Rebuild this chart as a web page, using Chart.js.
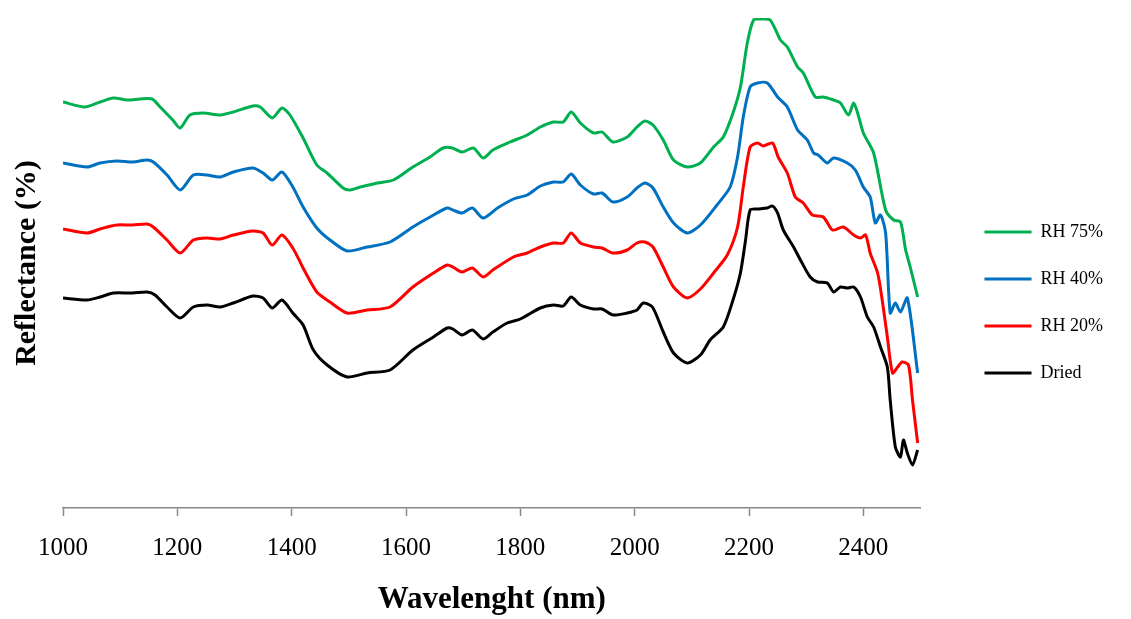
<!DOCTYPE html>
<html><head><meta charset="utf-8">
<script src="https://cdn.jsdelivr.net/npm/chart.js@4.4.1/dist/chart.umd.min.js"></script>
<style>html,body{margin:0;padding:0;background:#fff;}</style>
</head><body>
<canvas id="c" width="1131" height="619"></canvas>
<script>
// ---- Data (wavelength in nm, reflectance in arbitrary %-units) ----
const xTicks = [1000, 1200, 1400, 1600, 1800, 2000, 2200, 2400];
const seriesNames = ['RH 75%', 'RH 40%', 'RH 20%', 'Dried'];

const nmRH75 = [1000,1038,1065,1088,1112,1135,1156,1170,1192,1205,1222,1245,1275,1298,1332,1345,1366,1383,1397,1420,1444,1462,1490,1502,1520,1550,1578,1612,1642,1665,1681,1698,1718,1735,1752,1782,1812,1835,1858,1875,1889,1905,1928,1943,1962,1987,2004,2018,2032,2050,2068,2092,2115,2138,2155,2172,2185,2197,2208,2220,2237,2255,2267,2285,2295,2316,2330,2348,2360,2374,2383,2390,2400,2418,2439,2453,2465,2474,2482,2495];
const valRH75 = [40.6,40.1,40.6,41.0,40.8,40.9,40.9,40.1,38.8,38.0,39.3,39.5,39.3,39.6,40.2,40.1,39.0,40.0,39.3,37.0,34.3,33.5,32.0,31.8,32.1,32.5,32.8,34.1,35.1,36.0,36.0,35.6,36.0,35.0,35.8,36.6,37.3,38.1,38.6,38.6,39.6,38.5,37.5,37.6,36.6,37.1,38.1,38.7,38.3,36.8,34.8,34.1,34.5,36.1,37.1,39.5,42.1,46.5,48.8,48.9,48.8,46.8,46.1,44.1,43.5,41.1,41.1,40.8,40.5,39.3,40.5,39.5,37.5,35.5,29.8,28.8,28.6,25.8,24.1,21.1];

const nmRH40 = [1000,1042,1065,1094,1122,1147,1158,1182,1205,1228,1252,1275,1298,1332,1350,1366,1383,1402,1420,1444,1467,1497,1532,1572,1612,1642,1672,1682,1698,1716,1735,1760,1788,1812,1835,1858,1875,1889,1905,1928,1943,1962,1987,2004,2018,2032,2050,2068,2092,2115,2144,2167,2180,2190,2202,2215,2232,2250,2267,2285,2302,2313,2321,2337,2348,2372,2386,2400,2412,2421,2430,2439,2447,2456,2465,2477,2495];
const valRH40 = [34.5,34.1,34.5,34.7,34.6,34.8,34.6,33.3,31.8,33.3,33.3,33.1,33.6,34.0,33.5,32.8,33.6,32.1,30.1,28.0,26.8,25.7,26.1,26.6,28.1,29.1,30.0,29.8,29.5,30.0,29.0,30.0,30.9,31.3,32.2,32.6,32.6,33.4,32.3,31.4,31.5,30.6,31.1,32.0,32.5,32.0,30.1,28.5,27.5,28.3,30.3,32.1,35.1,39.1,42.1,42.5,42.5,41.1,40.1,37.8,36.8,35.5,35.3,34.5,35.0,34.5,33.8,32.1,31.1,28.5,29.3,27.5,19.5,20.5,19.6,21.0,13.5];

const nmRH20 = [1000,1042,1065,1094,1122,1147,1158,1182,1205,1228,1252,1275,1298,1332,1350,1366,1383,1402,1420,1444,1467,1497,1532,1572,1612,1648,1672,1682,1698,1716,1735,1752,1788,1812,1835,1858,1875,1889,1905,1928,1943,1962,1987,2004,2018,2032,2050,2068,2092,2115,2138,2162,2180,2190,2202,2215,2225,2241,2251,2267,2281,2295,2311,2330,2346,2365,2383,2395,2404,2412,2425,2433,2442,2451,2460,2468,2479,2486,2495];
const valRH20 = [27.9,27.5,27.9,28.3,28.3,28.4,28.1,26.8,25.5,26.8,27.0,26.9,27.3,27.7,27.5,26.3,27.3,26.0,24.0,21.6,20.6,19.5,19.8,20.1,22.1,23.5,24.3,24.1,23.6,24.0,23.1,23.8,25.1,25.5,26.1,26.5,26.5,27.5,26.5,26.1,26.0,25.5,25.8,26.5,26.6,26.1,24.1,22.1,21.0,21.9,23.5,25.3,28.1,32.1,36.1,36.5,36.2,36.5,35.1,33.5,31.1,30.5,29.3,29.1,27.8,28.1,27.3,27.0,27.3,25.5,23.5,20.8,17.1,13.5,14.1,14.6,14.3,10.8,6.5];

const nmDried = [1000,1042,1065,1088,1122,1147,1161,1182,1205,1228,1252,1275,1298,1332,1350,1366,1383,1402,1420,1438,1462,1497,1532,1572,1612,1648,1672,1682,1698,1716,1735,1752,1777,1800,1835,1858,1875,1889,1905,1928,1943,1962,1987,2004,2015,2031,2050,2068,2092,2115,2132,2155,2172,2185,2194,2202,2215,2232,2241,2250,2260,2278,2290,2307,2320,2337,2348,2360,2372,2383,2395,2407,2418,2430,2442,2447,2456,2465,2470,2477,2486,2495];
const valDried = [21.0,20.8,21.1,21.5,21.5,21.6,21.3,20.1,19.0,20.1,20.3,20.1,20.5,21.2,21.0,20.0,20.8,19.5,18.3,15.8,14.3,13.1,13.5,13.8,15.8,17.1,18.0,17.9,17.3,17.8,16.9,17.6,18.5,18.9,20.0,20.3,20.2,21.1,20.3,19.9,19.9,19.3,19.5,19.8,20.5,20.1,17.6,15.5,14.5,15.3,16.8,18.1,20.8,23.5,26.8,29.8,29.9,30.0,30.2,29.5,27.8,26.1,24.8,23.1,22.6,22.5,21.6,22.1,22.0,22.1,21.1,19.1,18.1,16.1,14.1,10.8,6.1,5.1,6.8,5.5,4.3,5.8];

const colors = ['#00B050', '#0070C0', '#FF0000', '#000000'];

const pair = (xs, ys) => xs.map((x, i) => ({x: x, y: ys[i]}));
const seriesData = [pair(nmRH75, valRH75), pair(nmRH40, valRH40), pair(nmRH20, valRH20), pair(nmDried, valDried)];

const serif = "'Liberation Serif', 'Times New Roman', serif";
Chart.defaults.font.family = serif;
Chart.defaults.color = '#000';

new Chart(document.getElementById('c'), {
  type: 'line',
  data: {
    datasets: seriesNames.map((name, i) => ({
      label: name,
      data: seriesData[i],
      borderColor: colors[i],
      backgroundColor: colors[i],
      borderWidth: 3,
      pointRadius: 0,
      tension: 0.25,
      fill: false
    }))
  },
  options: {
    responsive: false,
    animation: false,
    layout: { padding: { left: 9, top: 18, right: 18, bottom: 0 } },
    plugins: {
      tooltip: { enabled: false },
      legend: {
        position: 'right',
        align: 'start',
        title: { display: true, text: '', font: { size: 10 }, padding: { top: 164, bottom: 0 } },
        labels: {
          boxWidth: 47,
          boxHeight: 3,
          padding: 29,
          color: '#000',
          font: { size: 18, family: serif },
          generateLabels: (chart) => Chart.defaults.plugins.legend.labels.generateLabels(chart)
            .map(l => Object.assign(l, { lineWidth: 0, fillStyle: l.strokeStyle }))
        }
      }
    },
    scales: {
      x: {
        type: 'linear',
        min: 1000,
        max: 2500,
        afterBuildTicks: (s) => { s.ticks = xTicks.map(v => ({ value: v })); },
        afterFit: (s) => { s.height = 111; },
        ticks: { color: '#000', font: { size: 25, family: serif }, padding: 17, maxRotation: 0,
                 callback: (v) => String(v) },
        grid: { display: true, drawOnChartArea: false, drawTicks: true, tickLength: 8, color: '#888', tickWidth: 1.5 },
        border: { display: true, color: '#888', width: 1.5 },
        title: { display: true, text: 'Wavelenght (nm)', color: '#000', font: { size: 31, weight: 'bold', family: serif }, padding: { top: 20, bottom: 0 } }
      },
      y: {
        min: 0,
        max: 49,
        afterFit: (s) => { s.width = 54; },
        ticks: { display: false },
        grid: { display: false, drawTicks: false },
        border: { display: false },
        title: { display: true, text: 'Reflectance (%)', color: '#000', font: { size: 30, weight: 'bold', family: serif }, padding: { top: 0, bottom: 18 } }
      },
      spacer: {
        position: 'right',
        min: 0, max: 1,
        afterFit: (s) => { s.width = 35; },
        ticks: { display: false },
        grid: { display: false, drawTicks: false },
        border: { display: false }
      }
    }
  }
});
</script>
</body></html>
